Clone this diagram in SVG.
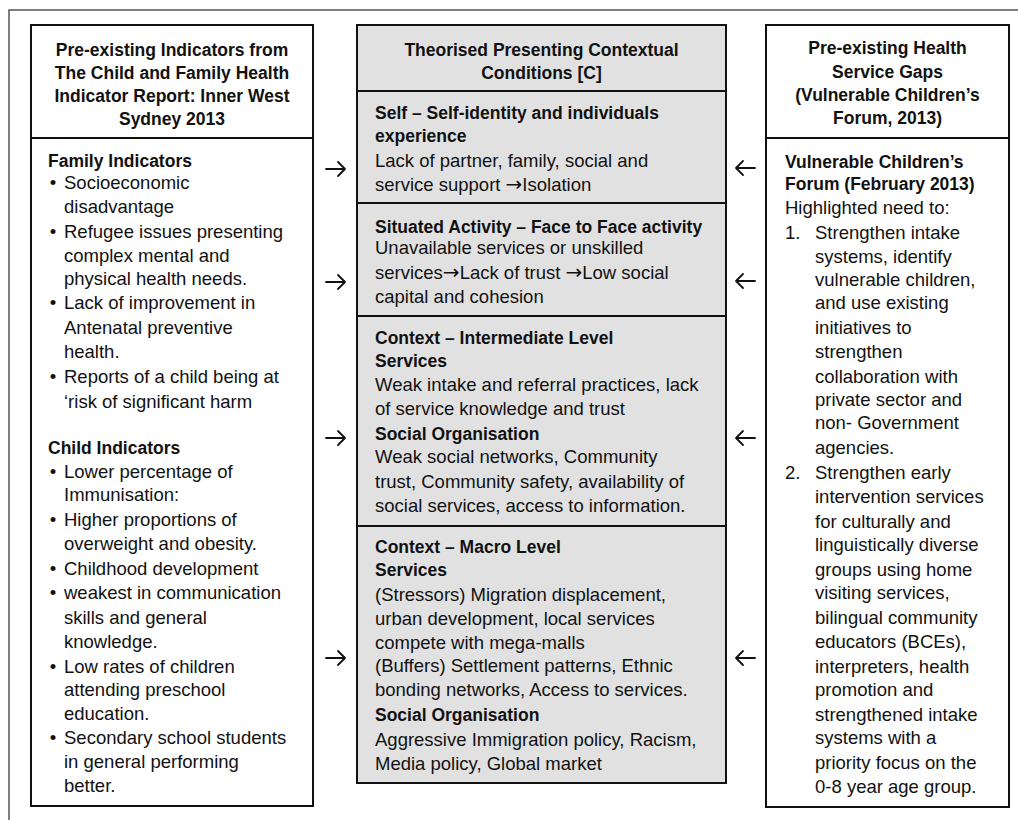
<svg xmlns="http://www.w3.org/2000/svg" width="1018" height="820" viewBox="0 0 1018 820">
<style>
text{font-family:"Liberation Sans",Arial,sans-serif;fill:#111;}
.r{font-size:18.5px;}
.b{font-size:17.5px;font-weight:bold;}
.c{text-anchor:middle;}
.ar{font-family:"DejaVu Sans",sans-serif;font-size:20px;}
.box{fill:#fff;stroke:#111;stroke-width:2;}
.gbox{fill:#e1e1e1;stroke:#111;stroke-width:2;}
.div{stroke:#111;stroke-width:2;}
.arr{fill:none;stroke:#111;stroke-width:1.8;stroke-linecap:round;stroke-linejoin:round;}
</style>
<rect x="0" y="0" width="1018" height="820" fill="#fff"/>
<rect x="9" y="10" width="1030" height="830" fill="none" stroke="#555" stroke-width="1.5"/>

<g id="left-column">
<rect class="box" x="31" y="25" width="282" height="781"/>
<line class="div" x1="31" y1="138" x2="313" y2="138"/>
<text class="b c" x="172" y="56">Pre-existing Indicators from</text>
<text class="b c" x="172" y="79">The Child and Family Health</text>
<text class="b c" x="172" y="102">Indicator Report: Inner West</text>
<text class="b c" x="172" y="125">Sydney 2013</text>
<text class="b" x="48" y="167">Family Indicators</text>
<text class="r c" x="53" y="189">•</text><text class="r" x="64" y="189">Socioeconomic</text>
<text class="r" x="64" y="213">disadvantage</text>
<text class="r c" x="53" y="238">•</text><text class="r" x="64" y="238">Refugee issues presenting</text>
<text class="r" x="64" y="262">complex mental and</text>
<text class="r" x="64" y="285">physical health needs.</text>
<text class="r c" x="53" y="309">•</text><text class="r" x="64" y="309">Lack of improvement in</text>
<text class="r" x="64" y="334">Antenatal preventive</text>
<text class="r" x="64" y="358">health.</text>
<text class="r c" x="53" y="383">•</text><text class="r" x="64" y="383">Reports of a child being at</text>
<text class="r" x="64" y="408">‘risk of significant harm</text>
<text class="b" x="48" y="454">Child Indicators</text>
<text class="r c" x="53" y="478">•</text><text class="r" x="64" y="478">Lower percentage of</text>
<text class="r" x="64" y="501">Immunisation:</text>
<text class="r c" x="53" y="526">•</text><text class="r" x="64" y="526">Higher proportions of</text>
<text class="r" x="64" y="550">overweight and obesity.</text>
<text class="r c" x="53" y="575">•</text><text class="r" x="64" y="575">Childhood development</text>
<text class="r c" x="53" y="599">•</text><text class="r" x="64" y="599">weakest in communication</text>
<text class="r" x="64" y="624">skills and general</text>
<text class="r" x="64" y="648">knowledge.</text>
<text class="r c" x="53" y="673">•</text><text class="r" x="64" y="673">Low rates of children</text>
<text class="r" x="64" y="696">attending preschool</text>
<text class="r" x="64" y="720">education.</text>
<text class="r c" x="53" y="744">•</text><text class="r" x="64" y="744">Secondary school students</text>
<text class="r" x="64" y="768">in general performing</text>
<text class="r" x="64" y="792">better.</text>
</g>

<g id="center-column">
<rect class="gbox" x="357" y="25" width="369" height="758"/>
<line class="div" x1="357" y1="91" x2="726" y2="91"/>
<line class="div" x1="357" y1="203" x2="726" y2="203"/>
<line class="div" x1="357" y1="316" x2="726" y2="316"/>
<line class="div" x1="357" y1="526" x2="726" y2="526"/>
<text class="b c" x="541.5" y="56">Theorised Presenting Contextual</text>
<text class="b c" x="541.5" y="79">Conditions [C]</text>
</g>

<g id="self">
<text class="b" x="375" y="119">Self – Self-identity and individuals</text>
<text class="b" x="375" y="142">experience</text>
<text class="r" x="375" y="167">Lack of partner, family, social and</text>
<text class="r" x="375" y="191">service support <tspan class="ar">→</tspan>Isolation</text>
</g>

<g id="situated-activity">
<text class="b" x="375" y="233">Situated Activity – Face to Face activity</text>
<text class="r" x="375" y="254">Unavailable services or unskilled</text>
<text class="r" x="375" y="279">services<tspan class="ar">→</tspan>Lack of trust <tspan class="ar">→</tspan>Low social</text>
<text class="r" x="375" y="303">capital and cohesion</text>
</g>

<g id="context-intermediate">
<text class="b" x="375" y="344">Context – Intermediate Level</text>
<text class="b" x="375" y="367">Services</text>
<text class="r" x="375" y="391">Weak intake and referral practices, lack</text>
<text class="r" x="375" y="415">of service knowledge and trust</text>
<text class="b" x="375" y="440">Social Organisation</text>
<text class="r" x="375" y="463">Weak social networks, Community</text>
<text class="r" x="375" y="488">trust, Community safety, availability of</text>
<text class="r" x="375" y="512">social services, access to information.</text>
</g>

<g id="context-macro">
<text class="b" x="375" y="553">Context – Macro Level</text>
<text class="b" x="375" y="576">Services</text>
<text class="r" x="375" y="601">(Stressors) Migration displacement,</text>
<text class="r" x="375" y="625">urban development, local services</text>
<text class="r" x="375" y="649">compete with mega-malls</text>
<text class="r" x="375" y="672">(Buffers) Settlement patterns, Ethnic</text>
<text class="r" x="375" y="696">bonding networks, Access to services.</text>
<text class="b" x="375" y="721">Social Organisation</text>
<text class="r" x="375" y="746">Aggressive Immigration policy, Racism,</text>
<text class="r" x="375" y="770">Media policy, Global market</text>
</g>

<g id="right-column">
<rect class="box" x="766" y="25" width="243" height="782"/>
<line class="div" x1="766" y1="138" x2="1009" y2="138"/>
<text class="b c" x="887.5" y="54">Pre-existing Health</text>
<text class="b c" x="887.5" y="78">Service Gaps</text>
<text class="b c" x="887.5" y="101">(Vulnerable Children’s</text>
<text class="b c" x="887.5" y="124">Forum, 2013)</text>
<text class="b" x="785" y="168">Vulnerable Children’s</text>
<text class="b" x="785" y="190">Forum (February 2013)</text>
<text class="r" x="785" y="214">Highlighted need to:</text>
<text class="r" x="785" y="239">1.</text><text class="r" x="815" y="239">Strengthen intake</text>
<text class="r" x="815" y="263">systems, identify</text>
<text class="r" x="815" y="286">vulnerable children,</text>
<text class="r" x="815" y="309">and use existing</text>
<text class="r" x="815" y="334">initiatives to</text>
<text class="r" x="815" y="358">strengthen</text>
<text class="r" x="815" y="383">collaboration with</text>
<text class="r" x="815" y="406">private sector and</text>
<text class="r" x="815" y="429">non- Government</text>
<text class="r" x="815" y="454">agencies.</text>
<text class="r" x="785" y="479">2.</text><text class="r" x="815" y="479">Strengthen early</text>
<text class="r" x="815" y="503">intervention services</text>
<text class="r" x="815" y="528">for culturally and</text>
<text class="r" x="815" y="551">linguistically diverse</text>
<text class="r" x="815" y="576">groups using home</text>
<text class="r" x="815" y="599">visiting services,</text>
<text class="r" x="815" y="624">bilingual community</text>
<text class="r" x="815" y="648">educators (BCEs),</text>
<text class="r" x="815" y="673">interpreters, health</text>
<text class="r" x="815" y="696">promotion and</text>
<text class="r" x="815" y="721">strengthened intake</text>
<text class="r" x="815" y="744">systems with a</text>
<text class="r" x="815" y="769">priority focus on the</text>
<text class="r" x="815" y="793">0-8 year age group.</text>
</g>

<g id="connectors">
<path class="arr" d="M326 169H345M338 162L345 169L338 176"/>
<path class="arr" d="M326 282H345M338 275L345 282L338 289"/>
<path class="arr" d="M326 438H345M338 431L345 438L338 445"/>
<path class="arr" d="M326 658H345M338 651L345 658L338 665"/>
<path class="arr" d="M755 168H736M743 161L736 168L743 175"/>
<path class="arr" d="M755 281H736M743 274L736 281L743 288"/>
<path class="arr" d="M755 438H736M743 431L736 438L743 445"/>
<path class="arr" d="M755 658H736M743 651L736 658L743 665"/>
</g>
</svg>
